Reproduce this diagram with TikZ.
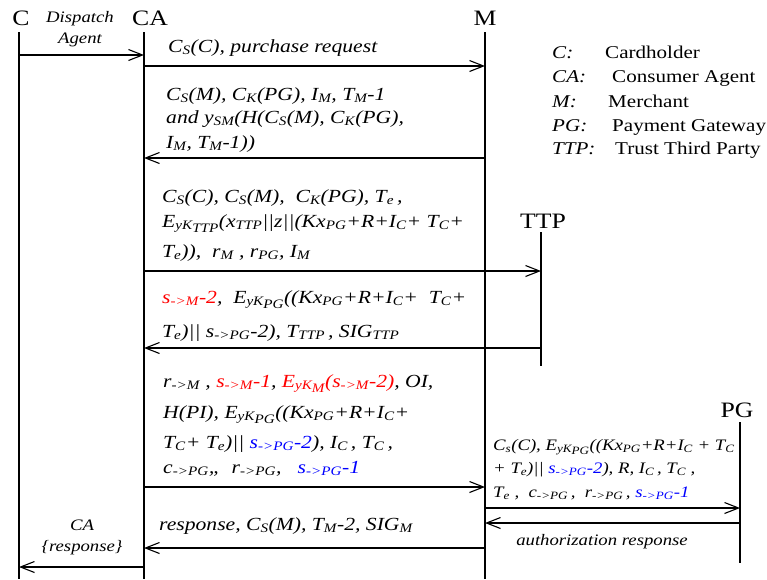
\documentclass[tikz,border=0pt]{standalone}
\usepackage{fontspec}
\setmainfont{Liberation Serif}[FakeStretch=1.17]
\usetikzlibrary{arrows.meta}
\newcommand\tsub[1]{\textsubscript{#1}}
% second-level index, kept at the size of the first one and set lower
\newcommand\lsub[1]{\raisebox{-0.45ex}{#1}}
\tikzset{
  life/.style={line width=1.1pt},
  msg/.style={line width=1.1pt,-{Straight Barb[length=14pt,width=11pt,line width=1.1pt]}},
  head/.style={anchor=base,inner sep=0pt,font=\fontsize{22}{26}\selectfont},
  lbl/.style={anchor=base west,inner sep=0pt,font=\fontsize{18.5}{22}\selectfont\itshape},
  slbl/.style={anchor=base west,inner sep=0pt,font=\fontsize{16}{19}\selectfont\itshape},
  clbl/.style={anchor=base,inner sep=0pt,font=\fontsize{16}{19}\selectfont\itshape},
  key/.style={anchor=base west,inner sep=0pt,font=\fontsize{18}{22}\selectfont\itshape},
  keytext/.style={anchor=base west,inner sep=0pt,font=\fontsize{18}{22}\selectfont},
}
\begin{document}
\begin{tikzpicture}[x=1pt,y=-1pt]
\useasboundingbox (0,0) rectangle (767,579);

% participants
\node[head] (hC)  at (21,25)   {C};
\node[head] (hCA) at (150,25)  {CA};
\node[head] (hM)  at (485,25)  {M};
\node[head] (hT)  at (543,228) {TTP};
\node[head] (hP)  at (737,417) {PG};

% lifelines
\coordinate (Ct)  at (19,32);  \coordinate (Cb)  at (19,579);
\coordinate (CAt) at (144,32); \coordinate (CAb) at (144,579);
\coordinate (Mt)  at (485,32); \coordinate (Mb)  at (485,579);
\coordinate (Tt)  at (541,232); \coordinate (Tb) at (541,366);
\coordinate (Pt)  at (740,422); \coordinate (Pb) at (740,563);
\draw[life] (Ct) -- (Cb);
\draw[life] (CAt) -- (CAb);
\draw[life] (Mt) -- (Mb);
\draw[life] (Tt) -- (Tb);
\draw[life] (Pt) -- (Pb);

% message end points on the lifelines
\coordinate (C1) at (19,55);   \coordinate (CA1) at (144,55);
\coordinate (CA2) at (144,66); \coordinate (M2) at (485,66);
\coordinate (M3) at (485,158); \coordinate (CA3) at (144,158);
\coordinate (CA4) at (144,271); \coordinate (T4) at (541,271);
\coordinate (T5) at (541,348); \coordinate (CA5) at (144,348);
\coordinate (CA6) at (144,487); \coordinate (M6) at (485,487);
\coordinate (M7) at (485,548); \coordinate (CA7) at (144,548);
\coordinate (CA8) at (144,567); \coordinate (C8) at (19,567);
\coordinate (M9) at (485,508); \coordinate (P9) at (740,508);
\coordinate (P10) at (740,523); \coordinate (M10) at (485,523);

% messages
\draw[msg] (C1) -- (CA1);
\draw[msg] (CA2) -- (M2);
\draw[msg] (M3) -- (CA3);
\draw[msg] (CA4) -- (T4);
\draw[msg] (T5) -- (CA5);
\draw[msg] (CA6) -- (M6);
\draw[msg] (M7) -- (CA7);
\draw[msg] (CA8) -- (C8);
\draw[msg] (M9) -- (P9);
\draw[msg] (P10) -- (M10);

% message labels
\node[clbl] (d1) at (80,22) {Dispatch};
\node[clbl] (d2) at (80,43) {Agent};

\node[lbl] (l1) at (168,52) {C\tsub{S}(C), purchase request};

\node[lbl] (l3a) at (166,100) {C\tsub{S}(M), C\tsub{K}(PG), I\tsub{M}, T\tsub{M}-1};
\node[lbl] (l3b) at (166,123) {and y\tsub{SM}(H(C\tsub{S}(M), C\tsub{K}(PG),};
\node[lbl] (l3c) at (166,148) {I\tsub{M}, T\tsub{M}-1))};

\node[lbl] (l4a) at (162,202) {C\tsub{S}(C), C\tsub{S}(M),\ \ C\tsub{K}(PG), T\tsub{e}\,,};
\node[lbl] (l4b) at (162,227) {E\tsub{yK\lsub{TTP}}(x\tsub{TTP}||z||(Kx\tsub{PG}+R+I\tsub{C}+ T\tsub{C}+};
\node[lbl] (l4c) at (162,257) {T\tsub{e})),\ \ r\tsub{M} , r\tsub{PG}, I\tsub{M}};

\node[lbl] (l5a) at (162,303) {\textcolor{red}{s\tsub{->M}-2},\ \ E\tsub{yK\lsub{PG}}((Kx\tsub{PG}+R+I\tsub{C}+\ \ T\tsub{C}+};
\node[lbl] (l5b) at (162,337) {T\tsub{e})|| s\tsub{->PG}-2), T\tsub{TTP}\,, SIG\tsub{TTP}};

\node[lbl] (l6a) at (163,387) {r\tsub{->M} , \textcolor{red}{s\tsub{->M}-1}, \textcolor{red}{E\tsub{yK\lsub{M}}(s\tsub{->M}-2)}, OI,};
\node[lbl] (l6b) at (163,418) {H(PI), E\tsub{yK\lsub{PG}}((Kx\tsub{PG}+R+I\tsub{C}+};
\node[lbl] (l6c) at (163,448) {T\tsub{C}+ T\tsub{e})|| \textcolor{blue}{s\tsub{->PG}-2}), I\tsub{C}\,, T\tsub{C}\,,};
\node[lbl] (l6d) at (163,473) {c\tsub{->PG},,\ \ r\tsub{->PG},\ \ \ \textcolor{blue}{s\tsub{->PG}-1}};

\node[lbl] (l7) at (159,530) {response, C\tsub{S}(M), T\tsub{M}-2, SIG\tsub{M}};

\node[clbl] (l8a) at (82,530) {CA};
\node[clbl] (l8b) at (82,551) {\{response\}};

\node[slbl] (l9a) at (493,450) {C\tsub{s}(C), E\tsub{yK\lsub{PG}}((Kx\tsub{PG}+R+I\tsub{C} + T\tsub{C}};
\node[slbl] (l9b) at (493,473) {+ T\tsub{e})|| \textcolor{blue}{s\tsub{->PG}-2}), R, I\tsub{C}\,, T\tsub{C}\ ,};
\node[slbl] (l9c) at (493,497) {T\tsub{e}\ ,\ \ c\tsub{->PG}\,,\ \ r\tsub{->PG}\,, \textcolor{blue}{s\tsub{->PG}-1}};

\node[clbl] (l10) at (602,545) {authorization response};

% legend
\node[key] (k1) at (552,58)  {C:};
\node[key] (k2) at (552,82.5) {CA:};
\node[key] (k3) at (552,107) {M:};
\node[key] (k4) at (552,131) {PG:};
\node[key] (k5) at (552,154) {TTP:};
\node[keytext] (t1) at (605,58)  {Cardholder};
\node[keytext] (t2) at (612,82.5) {Consumer Agent};
\node[keytext] (t3) at (608,107) {Merchant};
\node[keytext] (t4) at (612,131) {Payment Gateway};
\node[keytext] (t5) at (615,154) {Trust Third Party};
\end{tikzpicture}
\end{document}
